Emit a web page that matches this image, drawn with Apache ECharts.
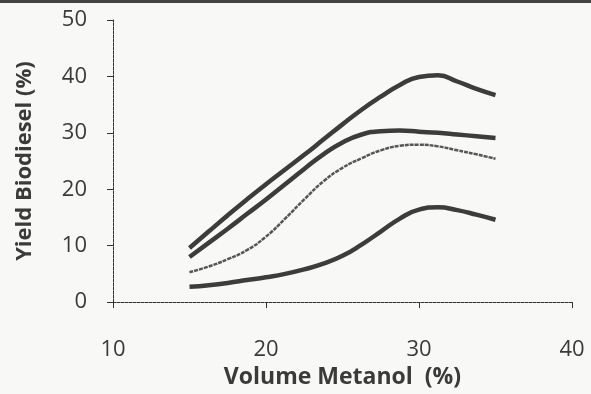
<!DOCTYPE html>
<html>
<head>
<meta charset="utf-8">
<script src="https://cdn.jsdelivr.net/npm/echarts@6/dist/echarts.min.js"></script>
<style>
  html, body { margin: 0; padding: 0; background: #f8f8f6; }
  #chart { width: 591px; height: 394px; }
</style>
</head>
<body>
<div id="chart"></div>
<script>
// volume metanol (%)
const volume = [15, 16.25, 17.5, 18.75, 20, 21.25, 22.5, 23.75, 25,
                26.25, 27.5, 28.75, 30, 31.25, 32.5, 33.75, 35];
// yield biodiesel (%) - four curves
const curveA = [9.6, 12.5, 15.4, 18.2, 20.9, 23.5, 26.1, 28.8, 31.5,
                34.1, 36.4, 38.5, 39.9, 40.2, 39.1, 37.8, 36.7];
const curveB = [8.0, 10.5, 13.0, 15.6, 18.2, 20.9, 23.6, 26.2, 28.3,
                29.7, 30.3, 30.4, 30.2, 30.0, 29.7, 29.4, 29.1];
const curveC = [5.3, 6.3, 7.6, 9.2, 11.6, 14.8, 18.2, 21.4, 23.8,
                25.5, 26.9, 27.7, 27.9, 27.6, 26.9, 26.2, 25.4];
const curveD = [2.7, 3.0, 3.4, 3.9, 4.4, 5.0, 5.8, 6.8, 8.2,
                10.2, 12.5, 14.8, 16.4, 16.8, 16.3, 15.5, 14.6];

const font = 'Open Sans';
const ink = '#3a3a3a';

const pairs = arr => volume.map((x, i) => [x, arr[i]]);

const chart = echarts.init(document.getElementById('chart'));

const thick = (name, data) => ({
  name,
  type: 'line',
  smooth: 0.5,
  showSymbol: false,
  lineStyle: { color: '#3c3c3c', width: 4.5 },
  data: pairs(data)
});

chart.setOption({
  animation: false,
  backgroundColor: '#f8f8f6',
  graphic: [
    { type: 'rect', shape: { x: 0, y: 0, width: 591, height: 3 }, style: { fill: '#444' } }
  ],
  grid: { left: 113, right: 19, top: 20, bottom: 91 },
  xAxis: {
    type: 'value',
    min: 10,
    max: 40,
    interval: 10,
    name: 'Volume Metanol  (%)',
    nameLocation: 'middle',
    nameGap: 54,
    nameTextStyle: { fontFamily: font, fontSize: 23, fontWeight: 'bold', color: ink },
    axisLine: { show: true, onZero: false, lineStyle: { color: '#333', width: 1, type: [3, 1] } },
    axisTick: { show: true, inside: false, length: 6, lineStyle: { color: '#333' } },
    axisLabel: { fontFamily: font, fontSize: 22, color: ink, margin: 37 },
    splitLine: { show: false }
  },
  yAxis: {
    type: 'value',
    min: 0,
    max: 50,
    interval: 10,
    name: 'Yield Biodiesel (%)',
    nameLocation: 'middle',
    nameGap: 77,
    nameTextStyle: { fontFamily: font, fontSize: 22, fontWeight: 'bold', color: ink },
    axisLine: { show: true, onZero: false, lineStyle: { color: '#333', width: 1, type: [3, 1] } },
    axisTick: { show: true, inside: false, length: 6, lineStyle: { color: '#333' } },
    axisLabel: { fontFamily: font, fontSize: 22, color: ink, margin: 26 },
    splitLine: { show: false }
  },
  series: [
    thick('A', curveA),
    thick('B', curveB),
    {
      name: 'C',
      type: 'line',
      smooth: 0.5,
      showSymbol: false,
      lineStyle: { color: '#555', width: 2.5, type: [4, 1] },
      data: pairs(curveC)
    },
    thick('D', curveD)
  ]
});
</script>
</body>
</html>
